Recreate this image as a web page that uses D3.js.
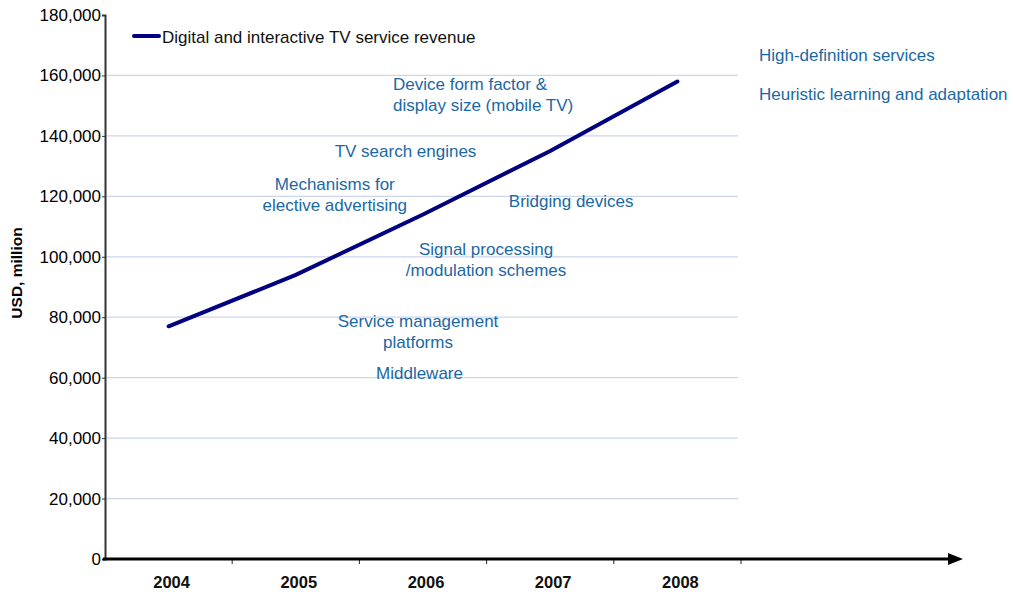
<!DOCTYPE html>
<html><head><meta charset="utf-8">
<script src="https://cdn.jsdelivr.net/npm/d3@7"></script>
<style>body{margin:0;background:#fff}svg{display:block}text{font-family:"Liberation Sans",Arial,sans-serif}</style>
</head><body><svg id="c" width="1013" height="592"></svg>
<script>
const years = ["2004","2005","2006","2007","2008"];
const revenue = [77000, 94000, 114000, 135000, 158000];
const yTicks = [0,20000,40000,60000,80000,100000,120000,140000,160000,180000];
const seriesName = "Digital and interactive TV service revenue";
const yTitle = "USD, million";
const annotations = [
  {lines:["Device form factor &","display size (mobile TV)"], x:"2006", v:155200, anchor:"start", dx:-30},
  {lines:["TV search engines"], x:"2006", v:133000, anchor:"middle", dx:-17.5},
  {lines:["Mechanisms for","elective advertising"], x:"2005", v:122100, anchor:"middle", dx:39},
  {lines:["Bridging devices"], x:"2007", v:116500, anchor:"middle", dx:21},
  {lines:["Signal processing","/modulation schemes"], x:"2006", v:100600, anchor:"middle", dx:63},
  {lines:["Service management","platforms"], x:"2006", v:76800, anchor:"middle", dx:-5},
  {lines:["Middleware"], x:"2006", v:59600, anchor:"middle", dx:-3.5},
];
const sideNotes = ["High-definition services","Heuristic learning and adaptation"];

const svg = d3.select("#c");
const x0 = 105, x1 = 741, yTop = 15, yBot = 559;
const x = d3.scaleBand().domain(years).range([x0, x1]);
const y = d3.scaleLinear().domain([0,180000]).range([yBot, yTop]);
const cx = d => x(d) + x.bandwidth()/2;

// gridlines
svg.append("g").selectAll("line").data(yTicks.filter(t=>t>0 && t<180000)).join("line")
  .attr("x1", x0).attr("x2", 738).attr("y1", d=>y(d)).attr("y2", d=>y(d))
  .attr("stroke", "#cdd5ea").attr("stroke-width", 1.2);

// y axis
const ya = svg.append("g").attr("transform",`translate(${x0},0)`)
  .call(d3.axisLeft(y).tickValues(yTicks).tickSize(3).tickPadding(1).tickFormat(d3.format(",")));
ya.select(".domain").attr("stroke","#333").attr("stroke-width",2);
ya.selectAll(".tick line").attr("stroke","#333");
ya.selectAll("text").attr("font-size",17).attr("fill","#000").attr("font-family","Liberation Sans, Arial");

// x axis
const xa = svg.append("g").attr("transform",`translate(0,${yBot})`)
  .call(d3.axisBottom(x).tickSize(0).tickPadding(17));
xa.select(".domain").remove();
xa.selectAll("text").attr("dx",3).attr("font-size",16.5).attr("font-weight","bold").attr("fill","#111").attr("font-family","Liberation Sans, Arial");
svg.append("g").selectAll("line").data(years).join("line")
  .attr("x1", d=>x(d)+x.bandwidth()).attr("x2", d=>x(d)+x.bandwidth())
  .attr("y1", yBot).attr("y2", yBot+5).attr("stroke","#222").attr("stroke-width",1);
svg.append("line").attr("x1", x0-2).attr("x2", 950).attr("y1", yBot).attr("y2", yBot)
  .attr("stroke","#000").attr("stroke-width",3);
svg.append("path").attr("d",`M948,${yBot-6}L963,${yBot}L948,${yBot+6}Z`).attr("fill","#000");

// y title
svg.append("text").attr("transform","translate(22,273) rotate(-90)").attr("text-anchor","middle")
  .attr("font-size",15.5).attr("font-weight","bold").attr("fill","#000").text(yTitle);

// line
svg.append("path").datum(years.map((d,i)=>[cx(d), y(revenue[i])]))
  .attr("d", d3.line()).attr("fill","none").attr("stroke","#000080").attr("stroke-width",4).attr("stroke-linecap","round");

// legend
svg.append("line").attr("x1",134).attr("x2",159).attr("y1",36).attr("y2",36).attr("stroke","#000080").attr("stroke-width",4).attr("stroke-linecap","round");
svg.append("text").attr("x",162).attr("y",43).attr("font-size",17).attr("fill","#111").text(seriesName);

// annotations
const ac = "#1a68a4";
annotations.forEach(a=>{
  const t = svg.append("text").attr("text-anchor",a.anchor).attr("font-size",17).attr("fill",ac);
  a.lines.forEach((l,i)=>{
    t.append("tspan").attr("x", cx(a.x)+a.dx).attr("y", y(a.v)+i*20.7).text(l);
  });
});
sideNotes.forEach((s,i)=>{
  svg.append("text").attr("x",759).attr("y",61+i*39).attr("font-size",17).attr("fill",ac).text(s);
});
</script></body></html>
